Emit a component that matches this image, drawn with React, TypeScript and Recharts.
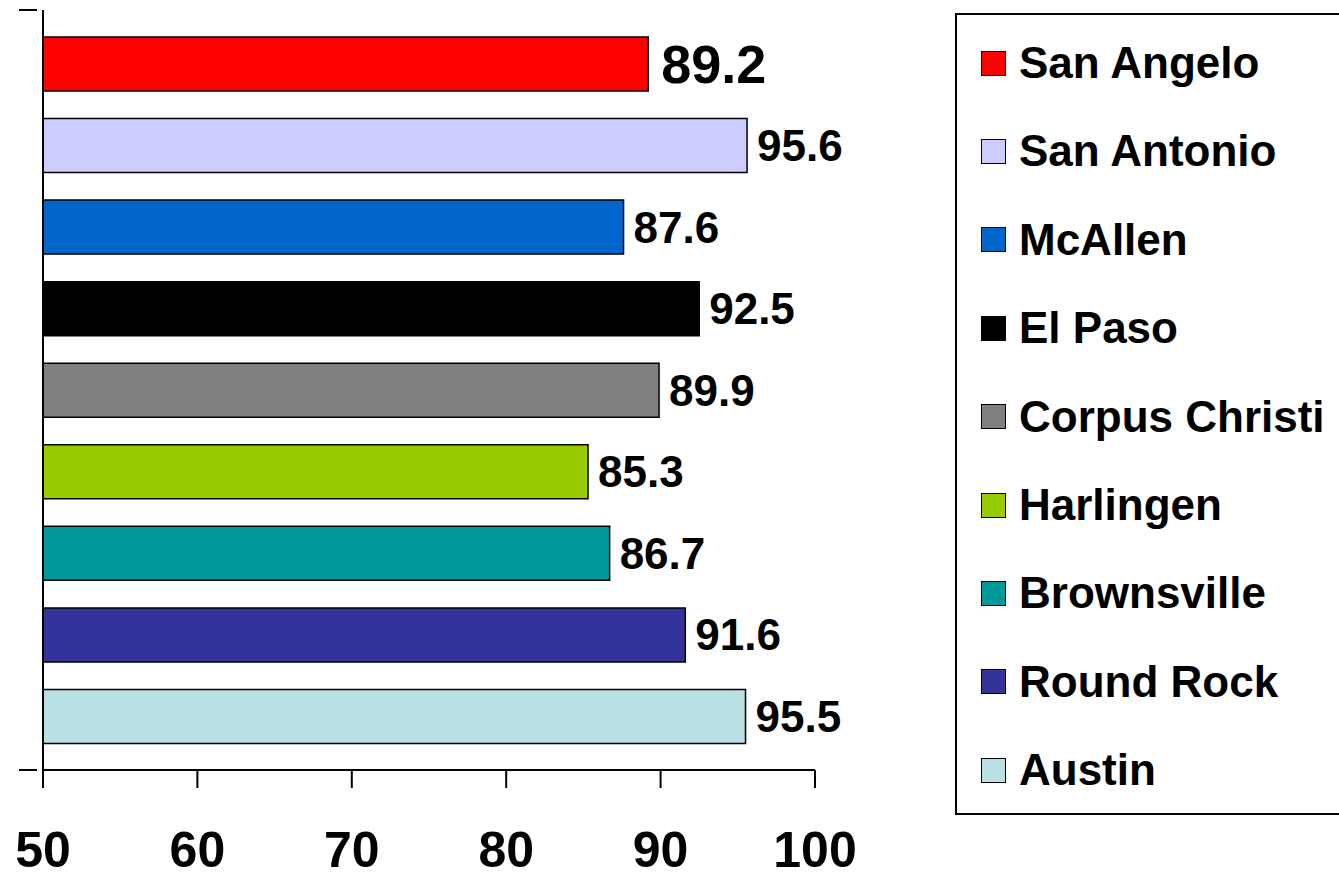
import { BarChart, Bar, XAxis, YAxis, Cell, LabelList } from "recharts"

const CITIES = [
  "San Angelo",
  "San Antonio",
  "McAllen",
  "El Paso",
  "Corpus Christi",
  "Harlingen",
  "Brownsville",
  "Round Rock",
  "Austin",
]
const VALUES = [89.2, 95.6, 87.6, 92.5, 89.9, 85.3, 86.7, 91.6, 95.5]
const COLORS = ["#ff0000", "#ccccff", "#0066cc", "#000000", "#808080", "#99cc00", "#009999", "#333399", "#b9e0e3"]
const X_TICKS = [50, 60, 70, 80, 90, 100]

const FONT = "'Liberation Sans', Arial, sans-serif"
const W = 1339
const H = 875
const MARGIN = { top: 10, right: 524, bottom: 5, left: 0 }
const X_AXIS_H = 100
const PLOT_TOP = MARGIN.top
const PLOT_BOTTOM = H - MARGIN.bottom - X_AXIS_H

const data = CITIES.map((city, i) => ({ city, value: VALUES[i] }))

function ValueLabel(props: any) {
  const { x, y, width, height, value, index } = props
  const big = index === 0
  return (
    <text
      x={x + width + (big ? 13 : 10)}
      y={y + height / 2}
      dominantBaseline="central"
      fontFamily={FONT}
      fontWeight="bold"
      fontSize={big ? 54 : 44}
      fill="#000"
    >
      {value}
    </text>
  )
}

// Excel-style end ticks on the category axis (top and bottom edge only)
function EdgeTick(props: any) {
  const { x, index, visibleTicksCount } = props
  if (index === 0) {
    return <line x1={x - 18} x2={x} y1={PLOT_TOP} y2={PLOT_TOP} stroke="#000" strokeWidth={2} />
  }
  if (index === visibleTicksCount - 1) {
    return <line x1={x - 18} x2={x} y1={PLOT_BOTTOM} y2={PLOT_BOTTOM} stroke="#000" strokeWidth={2} />
  }
  return <g />
}

export default function App() {
  return (
    <div style={{ position: "absolute", left: 0, top: 0, width: W, height: H, background: "#fff", overflow: "hidden" }}>
      <BarChart width={W} height={H} data={data} layout="vertical" margin={MARGIN}>
        <XAxis
          type="number"
          domain={[50, 100]}
          ticks={X_TICKS}
          allowDataOverflow
          height={X_AXIS_H}
          tickSize={18}
          tickMargin={43}
          axisLine={{ stroke: "#000", strokeWidth: 2 }}
          tickLine={{ stroke: "#000", strokeWidth: 2 }}
          tick={{ fill: "#000", fontSize: 50, fontWeight: "bold", fontFamily: FONT }}
        />
        <YAxis
          type="category"
          dataKey="city"
          width={43}
          padding={{ top: 13, bottom: 13 }}
          tickLine={false}
          tickMargin={0}
          tick={<EdgeTick />}
          axisLine={{ stroke: "#000", strokeWidth: 2 }}
        />
        <Bar dataKey="value" barSize={54} stroke="#000" strokeWidth={1.5} isAnimationActive={false}>
          {data.map((_, i) => (
            <Cell key={i} fill={COLORS[i]} />
          ))}
          <LabelList dataKey="value" content={<ValueLabel />} />
        </Bar>
      </BarChart>
      <div
        style={{
          position: "absolute",
          left: 955,
          top: 13,
          width: 400,
          height: 802,
          border: "2px solid #000",
          boxSizing: "border-box",
          fontFamily: FONT,
        }}
      >
        {CITIES.map((city, i) => (
          <div
            key={city}
            style={{
              position: "absolute",
              left: 24,
              top: 48 + i * 88.4 - 30,
              height: 60,
              display: "flex",
              alignItems: "center",
              whiteSpace: "nowrap",
            }}
          >
            <span
              style={{
                display: "inline-block",
                width: 23,
                height: 23,
                background: COLORS[i],
                border: "1.5px solid #000",
                marginRight: 13,
              }}
            />
            <span style={{ fontSize: 44, fontWeight: "bold", color: "#000" }}>{city}</span>
          </div>
        ))}
      </div>
    </div>
  )
}
